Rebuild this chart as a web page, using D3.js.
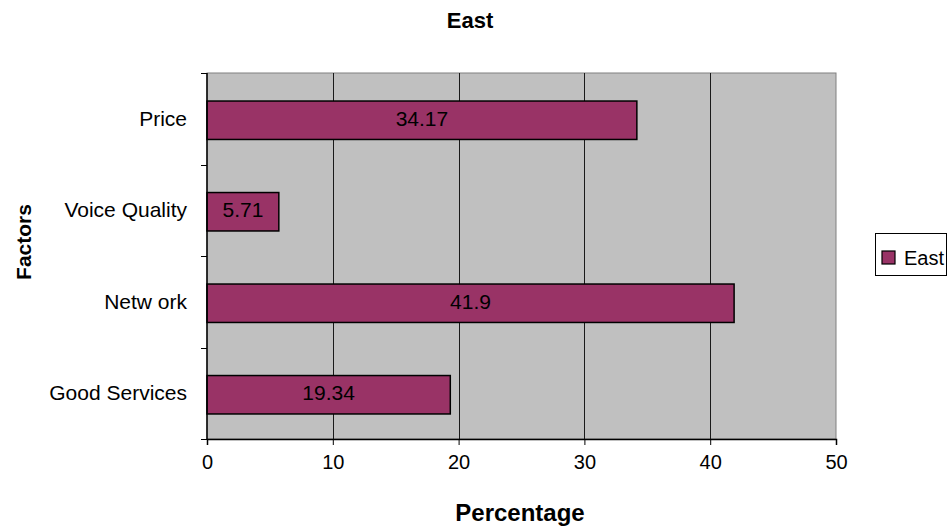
<!DOCTYPE html>
<html>
<head>
<meta charset="utf-8">
<script src="https://cdn.jsdelivr.net/npm/d3@7"></script>
<style>
  html, body { margin: 0; padding: 0; background: #fff; }
  svg { display: block; }
  text { font-family: "Liberation Sans", Arial, sans-serif; fill: #000; }
</style>
</head>
<body>
<svg id="chart" width="952" height="529"></svg>
<script>
// ---- data ----
const categories = ["Price", "Voice Quality", "Network", "Good Services"];
const categoryLabels = ["Price", "Voice Quality", "Netw ork", "Good Services"];
const values = [34.17, 5.71, 41.9, 19.34];
const valueLabels = ["34.17", "5.71", "41.9", "19.34"];
const xTicks = [0, 10, 20, 30, 40, 50];
const seriesName = "East";
const chartTitle = "East";
const xTitle = "Percentage";
const yTitle = "Factors";

// ---- layout ----
const plot = { left: 207, right: 836, top: 73, bottom: 439 };
const barColor = "#993366";

const svg = d3.select("#chart");

const x = d3.scaleLinear().domain([0, 50]).range([plot.left, plot.right]);
const y = d3.scaleBand().domain(categories).range([plot.top, plot.bottom]).padding(0);

// plot background
svg.append("rect")
  .attr("x", plot.left).attr("y", plot.top)
  .attr("width", plot.right - plot.left).attr("height", plot.bottom - plot.top)
  .attr("fill", "#C0C0C0")
  .attr("stroke", "#808080").attr("stroke-width", 1);

// gridlines
svg.append("g").selectAll("line")
  .data(xTicks.filter(d => d > 0 && d < 50))
  .join("line")
  .attr("x1", d => Math.round(x(d)) + 0.5).attr("x2", d => Math.round(x(d)) + 0.5)
  .attr("y1", plot.top).attr("y2", plot.bottom)
  .attr("stroke", "#1a1a1a").attr("stroke-width", 1);

// bars
const bh = y.bandwidth() * 0.42;
const bOff = (y.bandwidth() - bh) / 2 + 1.5;
svg.append("g").selectAll("rect")
  .data(values)
  .join("rect")
  .attr("x", x(0))
  .attr("y", (d, i) => y(categories[i]) + bOff)
  .attr("width", d => x(d) - x(0))
  .attr("height", bh)
  .attr("fill", barColor)
  .attr("stroke", "#000").attr("stroke-width", 1.5);

// value labels
svg.append("g").selectAll("text")
  .data(values)
  .join("text")
  .attr("x", d => (x(0) + x(d)) / 2)
  .attr("y", (d, i) => y(categories[i]) + bOff + bh / 2 + 5.5)
  .attr("text-anchor", "middle")
  .attr("font-size", 21)
  .text((d, i) => valueLabels[i]);

// x axis
const xAxis = d3.axisBottom(x).tickValues(xTicks).tickSize(6).tickPadding(10).tickFormat(d3.format("d"));
const gx = svg.append("g").attr("transform", `translate(0,${plot.bottom})`).call(xAxis);
gx.select(".domain").attr("stroke", "#000").attr("stroke-width", 1.5);
gx.selectAll(".tick line").attr("stroke", "#000");
gx.selectAll(".tick text").attr("font-size", 20).attr("font-family", "Liberation Sans, Arial, sans-serif").attr("fill", "#000");

// y axis (ticks at category boundaries)
const yBound = d3.scaleLinear().domain([0, categories.length]).range([plot.top, plot.bottom]);
const yAxisG = svg.append("g");
yAxisG.append("line")
  .attr("x1", plot.left).attr("x2", plot.left)
  .attr("y1", plot.top).attr("y2", plot.bottom)
  .attr("stroke", "#000").attr("stroke-width", 1.5);
yAxisG.selectAll("line.tk")
  .data(d3.range(categories.length + 1))
  .join("line").attr("class", "tk")
  .attr("x1", plot.left - 6).attr("x2", plot.left)
  .attr("y1", d => Math.round(yBound(d)) + 0.5).attr("y2", d => Math.round(yBound(d)) + 0.5)
  .attr("stroke", "#000");
yAxisG.selectAll("text")
  .data(categories)
  .join("text")
  .attr("x", 187)
  .attr("y", d => y(d) + y.bandwidth() / 2 + 7)
  .attr("text-anchor", "end")
  .attr("font-size", 21)
  .text((d, i) => categoryLabels[i]);

// titles
svg.append("text")
  .attr("x", 470).attr("y", 28)
  .attr("text-anchor", "middle").attr("font-weight", "bold").attr("font-size", 22)
  .text(chartTitle);
svg.append("text")
  .attr("x", 520).attr("y", 521)
  .attr("text-anchor", "middle").attr("font-weight", "bold").attr("font-size", 24)
  .text(xTitle);
svg.append("text")
  .attr("transform", "translate(31,242) rotate(-90)")
  .attr("text-anchor", "middle").attr("font-weight", "bold").attr("font-size", 21)
  .text(yTitle);

// legend
const lg = svg.append("g");
lg.append("rect")
  .attr("x", 875.5).attr("y", 233.5).attr("width", 71).attr("height", 42)
  .attr("fill", "#fff").attr("stroke", "#000");
lg.append("rect")
  .attr("x", 882).attr("y", 251).attr("width", 13).attr("height", 13)
  .attr("fill", barColor).attr("stroke", "#000").attr("stroke-width", 1.2);
lg.append("text")
  .attr("x", 904).attr("y", 265)
  .attr("font-size", 20)
  .text(seriesName);
</script>
</body>
</html>
